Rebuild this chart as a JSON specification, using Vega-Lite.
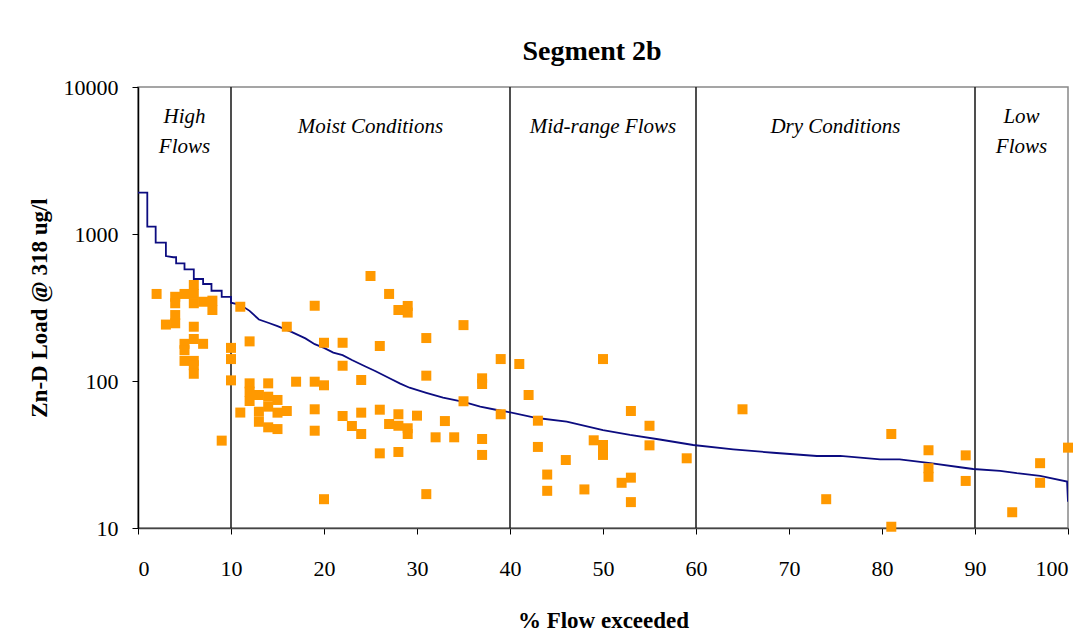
{
  "$schema": "https://vega.github.io/schema/vega-lite/v6.json",
  "width": 930,
  "height": 441,
  "autosize": {"type": "none"},
  "padding": {"left": 138, "top": 87, "right": 23, "bottom": 111},
  "background": "white",
  "title": {"text": "Segment 2b", "font": "Liberation Serif", "fontSize": 28, "fontWeight": "bold", "color": "#000", "offset": 10, "dx": -11},
  "config": {
    "view": {"stroke": "#888", "strokeWidth": 1.5},
    "axis": {"labelFont": "Liberation Serif", "titleFont": "Liberation Serif", "labelColor": "#000", "titleColor": "#000", "grid": false, "tickColor": "#000", "labelFontSize": 22, "titleFontSize": 23, "titleFontWeight": "bold"}
  },
  "datasets": {
    "obs": [
      {"pct": 2, "load": 391}, {"pct": 3, "load": 242},
      {"pct": 4, "load": 374}, {"pct": 4, "load": 338}, {"pct": 4, "load": 281}, {"pct": 4, "load": 247},
      {"pct": 5, "load": 391}, {"pct": 5, "load": 179}, {"pct": 5, "load": 162}, {"pct": 5, "load": 137},
      {"pct": 6, "load": 450}, {"pct": 6, "load": 391}, {"pct": 6, "load": 338}, {"pct": 6, "load": 234}, {"pct": 6, "load": 193}, {"pct": 6, "load": 137}, {"pct": 6, "load": 128}, {"pct": 6, "load": 112},
      {"pct": 7, "load": 346}, {"pct": 7, "load": 179},
      {"pct": 8, "load": 352}, {"pct": 8, "load": 304},
      {"pct": 9, "load": 39.3},
      {"pct": 10, "load": 168}, {"pct": 10, "load": 141}, {"pct": 10, "load": 101},
      {"pct": 11, "load": 320}, {"pct": 11, "load": 61},
      {"pct": 12, "load": 186}, {"pct": 12, "load": 96.4}, {"pct": 12, "load": 84.6}, {"pct": 12, "load": 73.1},
      {"pct": 13, "load": 80.3}, {"pct": 13, "load": 61.8}, {"pct": 13, "load": 52.8},
      {"pct": 14, "load": 96.4}, {"pct": 14, "load": 78.2}, {"pct": 14, "load": 66.9}, {"pct": 14, "load": 48.4},
      {"pct": 15, "load": 74.3}, {"pct": 15, "load": 60.9}, {"pct": 15, "load": 47.1},
      {"pct": 16, "load": 234}, {"pct": 16, "load": 62.5},
      {"pct": 17, "load": 98.9},
      {"pct": 19, "load": 325}, {"pct": 19, "load": 98.9}, {"pct": 19, "load": 64.2}, {"pct": 19, "load": 45.9},
      {"pct": 20, "load": 182}, {"pct": 20, "load": 93.5}, {"pct": 20, "load": 15.7},
      {"pct": 22, "load": 182}, {"pct": 22, "load": 127}, {"pct": 22, "load": 57.8},
      {"pct": 23, "load": 49.4},
      {"pct": 24, "load": 101.6}, {"pct": 24, "load": 60.9}, {"pct": 24, "load": 43.6},
      {"pct": 25, "load": 518},
      {"pct": 26, "load": 173}, {"pct": 26, "load": 63.8}, {"pct": 26, "load": 32.2},
      {"pct": 27, "load": 391}, {"pct": 27, "load": 51},
      {"pct": 28, "load": 304}, {"pct": 28, "load": 59.4}, {"pct": 28, "load": 49.6}, {"pct": 28, "load": 32.9},
      {"pct": 29, "load": 324}, {"pct": 29, "load": 292}, {"pct": 29, "load": 47.7}, {"pct": 29, "load": 43.6},
      {"pct": 30, "load": 58.1},
      {"pct": 31, "load": 196}, {"pct": 31, "load": 108.7}, {"pct": 31, "load": 17},
      {"pct": 32, "load": 41.4}, {"pct": 33, "load": 53.4}, {"pct": 34, "load": 41.4},
      {"pct": 35, "load": 240}, {"pct": 35, "load": 72.8},
      {"pct": 37, "load": 104.3}, {"pct": 37, "load": 95.4}, {"pct": 37, "load": 40.3}, {"pct": 37, "load": 31.4},
      {"pct": 39, "load": 141}, {"pct": 39, "load": 59.4},
      {"pct": 41, "load": 130.5}, {"pct": 42, "load": 80.3},
      {"pct": 43, "load": 53.7}, {"pct": 43, "load": 35.6},
      {"pct": 44, "load": 23.1}, {"pct": 44, "load": 17.9},
      {"pct": 46, "load": 29}, {"pct": 48, "load": 18.3}, {"pct": 49, "load": 39.5},
      {"pct": 50, "load": 141}, {"pct": 50, "load": 36.7}, {"pct": 50, "load": 31.4},
      {"pct": 52, "load": 20.3},
      {"pct": 53, "load": 62.5}, {"pct": 53, "load": 22}, {"pct": 53, "load": 15},
      {"pct": 55, "load": 49.6}, {"pct": 55, "load": 36.5},
      {"pct": 59, "load": 29.8}, {"pct": 65, "load": 64.2}, {"pct": 74, "load": 15.7},
      {"pct": 81, "load": 43.6}, {"pct": 81, "load": 10.2},
      {"pct": 85, "load": 33.8}, {"pct": 85, "load": 25.5}, {"pct": 85, "load": 22.3},
      {"pct": 89, "load": 31.2}, {"pct": 89, "load": 20.9},
      {"pct": 94, "load": 12.8},
      {"pct": 97, "load": 27.6}, {"pct": 97, "load": 20.3},
      {"pct": 100, "load": 35.2}
    ],
    "curve": [
      {"pct": 0, "load": 1910}, {"pct": 1, "load": 1910}, {"pct": 1, "load": 1122}, {"pct": 1.9, "load": 1122},
      {"pct": 1.9, "load": 873}, {"pct": 3, "load": 873}, {"pct": 3, "load": 708}, {"pct": 3.8, "load": 695},
      {"pct": 4.1, "load": 695}, {"pct": 4.1, "load": 632}, {"pct": 5, "load": 632}, {"pct": 5, "load": 575},
      {"pct": 6, "load": 575}, {"pct": 6, "load": 494}, {"pct": 7, "load": 494}, {"pct": 7, "load": 457},
      {"pct": 7.9, "load": 457}, {"pct": 7.9, "load": 411}, {"pct": 9, "load": 411}, {"pct": 9, "load": 374},
      {"pct": 10, "load": 374}, {"pct": 10, "load": 341}, {"pct": 11, "load": 330}, {"pct": 12, "load": 300}, {"pct": 13, "load": 262},
      {"pct": 14, "load": 249}, {"pct": 15, "load": 236}, {"pct": 16.5, "load": 216}, {"pct": 18, "load": 195},
      {"pct": 19, "load": 178}, {"pct": 20, "load": 168}, {"pct": 21, "load": 156}, {"pct": 22, "load": 150}, {"pct": 23, "load": 139},
      {"pct": 24.4, "load": 126}, {"pct": 25.5, "load": 117}, {"pct": 27.1, "load": 104}, {"pct": 28.2, "load": 96}, {"pct": 29.2, "load": 90},
      {"pct": 31, "load": 83}, {"pct": 32.8, "load": 77}, {"pct": 35, "load": 72}, {"pct": 36.8, "load": 67},
      {"pct": 38.6, "load": 63.5}, {"pct": 39.6, "load": 62}, {"pct": 42.9, "load": 56}, {"pct": 46.1, "load": 53},
      {"pct": 50, "load": 46.4}, {"pct": 52.9, "load": 43}, {"pct": 56.1, "load": 40}, {"pct": 59.7, "load": 36.7},
      {"pct": 64, "load": 34.3}, {"pct": 68.3, "load": 32.5}, {"pct": 73, "load": 30.9}, {"pct": 75.5, "load": 30.9},
      {"pct": 79.8, "load": 29.3}, {"pct": 81.9, "load": 29.3}, {"pct": 85.2, "load": 27.6}, {"pct": 88.4, "load": 25.9},
      {"pct": 89.8, "load": 25.2}, {"pct": 92.7, "load": 24.5}, {"pct": 94.5, "load": 23.6}, {"pct": 97, "load": 22.6},
      {"pct": 99.9, "load": 20.7}, {"pct": 100, "load": 15.1}
    ],
    "zones": [{"pct": 10}, {"pct": 40}, {"pct": 60}, {"pct": 90}],
    "labels": [
      {"pct": 5, "load": 6225, "label": "High\nFlows"},
      {"pct": 25, "load": 5350, "label": "Moist Conditions"},
      {"pct": 50, "load": 5350, "label": "Mid-range Flows"},
      {"pct": 75, "load": 5350, "label": "Dry Conditions"},
      {"pct": 95, "load": 6225, "label": "Low\nFlows"}
    ]
  },
  "layer": [
    {
      "data": {"name": "zones"},
      "mark": {"type": "rule", "color": "#222", "strokeWidth": 1.6},
      "encoding": {"x": {"field": "pct", "type": "quantitative", "scale": {"domain": [0, 100]}}}
    },
    {
      "data": {"name": "curve"},
      "mark": {"type": "line", "color": "#0c0c80", "strokeWidth": 1.8, "clip": true},
      "encoding": {
        "x": {"field": "pct", "type": "quantitative", "scale": {"domain": [0, 100], "nice": false},
          "axis": {"values": [0, 10, 20, 30, 40, 50, 60, 70, 80, 90, 100], "title": "% Flow exceeded", "tickSize": 6, "labelPadding": 24, "titlePadding": 30, "domainColor": "#444", "domainWidth": 1.5}},
        "y": {"field": "load", "type": "quantitative", "scale": {"type": "log", "domain": [10, 10000], "nice": false},
          "axis": {"values": [10, 100, 1000, 10000], "format": "d", "title": "Zn-D Load @ 318 ug/l", "tickSize": 6, "labelPadding": 14, "titlePadding": 12, "domainColor": "#000", "domainWidth": 1.5}},
        "order": {"field": "pct"}
      }
    },
    {
      "data": {"name": "obs"},
      "mark": {"type": "square", "color": "#FF9900", "filled": true, "opacity": 1, "size": 100},
      "encoding": {
        "x": {"field": "pct", "type": "quantitative"},
        "y": {"field": "load", "type": "quantitative"}
      }
    },
    {
      "data": {"name": "labels"},
      "mark": {"type": "text", "font": "Liberation Serif", "fontStyle": "italic", "fontSize": 21, "lineBreak": "\n", "lineHeight": 30, "align": "center", "baseline": "middle", "color": "#000"},
      "encoding": {
        "x": {"field": "pct", "type": "quantitative"},
        "y": {"field": "load", "type": "quantitative"},
        "text": {"field": "label"}
      }
    }
  ]
}
